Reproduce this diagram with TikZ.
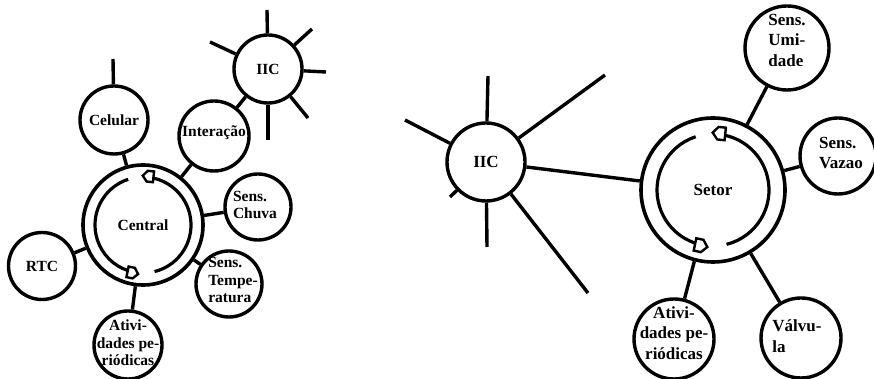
\documentclass[tikz,border=0pt]{standalone}
\usepackage{fontspec}
\setmainfont{Liberation Serif}
\newcommand{\ringarc}[4]{%
  \draw[arcline] ([shift={(#3:#2)}]#1.center) arc[start angle=#3, end angle=#4, radius=#2];}
\newcommand{\ringhead}[4]{%
  \begin{scope}[shift={(#1.center)}, shift={(#3:#2)}, rotate=#3+90, scale=#4]
    \draw[arrowhd] (-6,-6) -- (1,-6) -- (6,0) -- (1,6) -- (-6,6) -- cycle;
  \end{scope}}
\begin{document}
\begin{tikzpicture}[x=1pt,y=1pt,
  ln/.style={line width=3.4pt},
  arcline/.style={line width=3.2pt},
  circ/.style={circle, draw, line width=3.4pt, inner sep=0pt, minimum size=#1},
  ring/.style={circle, draw, line width=3.6pt, inner sep=0pt, minimum size=#1},
  txt/.style={font=\fontsize{15.5}{17.5}\selectfont\bfseries, align=center, inner sep=0pt},
  txtl/.style={txt, align=left},
  rtxt/.style={font=\fontsize{17}{20.5}\selectfont\bfseries, align=center, inner sep=0pt},
  rtxtl/.style={rtxt, align=left},
  big/.style={font=\fontsize{17}{20}\selectfont\bfseries, inner sep=0pt},
  arrowhd/.style={draw, fill=white, line width=2.4pt, line join=miter}
]
\useasboundingbox (0,0) rectangle (874,379);

% ---------------- left diagram ----------------
\node[ring=120pt] (central) at (143,154) {};
\node[circ=68pt] (celular) at (114,259) {};
\node[circ=70pt] (interacao) at (214,243) {};
\node[circ=68pt] (iic1) at (268,310) {};
\node[circ=66pt] (chuva) at (258,172) {};
\node[circ=66pt] (temp) at (229,95) {};
\node[circ=67pt] (rtc) at (42,113) {};
\node[circ=68pt] (ativ1) at (128,34) {};

\coordinate (cel-end) at (113,320);
\coordinate (s1a) at (267,369);
\coordinate (s1b) at (210,337);
\coordinate (s1c) at (312,350);
\coordinate (s1d) at (326,307);
\coordinate (s1e) at (308,261);
\coordinate (s1f) at (268,239);

\draw[ln] (celular) -- (central);
\draw[ln] (celular) -- (cel-end);
\draw[ln] (interacao) -- (central);
\draw[ln] (interacao) -- (iic1);
\draw[ln] (chuva) -- (central);
\draw[ln] (temp) -- (central);
\draw[ln] (rtc) -- (central);
\draw[ln] (ativ1) -- (central);
\foreach \s in {s1a,s1b,s1c,s1d,s1e,s1f} \draw[ln] (iic1) -- (\s);

\ringarc{central}{48}{108}{252}
\ringarc{central}{48}{284}{438}
\ringhead{central}{49}{258}{0.9}
\ringhead{central}{49}{444}{0.9}

\node[txt] (central-t) at (central) {Central};
\node[txt] (celular-t) at (celular) {Celular};
\node[txt] (interacao-t) at ([yshift=3]interacao.center) {Interação};
\node[txt] (iic1-t) at (iic1) {IIC};
\node[txtl] (chuva-t) at ([xshift=-3,yshift=2]chuva.center) {Sens.\\Chuva};
\node[txtl] (temp-t) at ([xshift=4,yshift=4]temp.center) {Sens.\\Tempe-\\ratura};
\node[txt] (rtc-t) at (rtc) {RTC};
\node[txt] (ativ1-t) at ([yshift=2]ativ1.center) {Ativi-\\dades pe-\\riódicas};

% ---------------- right diagram ----------------
\node[ring=144pt] (setor) at (713,189) {};
\node[circ=78pt] (iic2) at (486,217) {};
\node[circ=84pt] (umidade) at (787,331) {};
\node[circ=76pt] (vazao) at (838,223) {};
\node[circ=80pt] (valvula) at (801,41) {};
\node[circ=80pt] (ativ2) at (674,40) {};

\coordinate (s2a) at (488,303);
\coordinate (s2b) at (605,304);
\coordinate (s2c) at (405,259);
\coordinate (s2d) at (450,182);
\coordinate (s2e) at (487,132);
\coordinate (s2f) at (588,86);

\draw[ln] (iic2) -- (setor);
\draw[ln] (umidade) -- (setor);
\draw[ln] (vazao) -- (setor);
\draw[ln] (valvula) -- (setor);
\draw[ln] (ativ2) -- (setor);
\foreach \s in {s2a,s2b,s2c,s2d,s2e,s2f} \draw[ln] (iic2) -- (\s);

\ringarc{setor}{56}{108}{252}
\ringarc{setor}{56}{284}{438}
\ringhead{setor}{57}{258}{1.05}
\ringhead{setor}{57}{444}{1.05}

\node[big] (setor-t) at (setor) {Setor};
\node[big] (iic2-t) at (iic2) {IIC};
\node[rtxtl] (umidade-t) at ([yshift=8]umidade.center) {Sens.\\Umi-\\dade};
\node[rtxtl] (vazao-t) at ([xshift=3,yshift=3]vazao.center) {Sens.\\Vazao};
\node[rtxtl] (valvula-t) at ([xshift=-4,yshift=2]valvula.center) {Válvu-\\la};
\node[rtxt] (ativ2-t) at ([yshift=6]ativ2.center) {Ativi-\\dades pe-\\riódicas};
\end{tikzpicture}
\end{document}
